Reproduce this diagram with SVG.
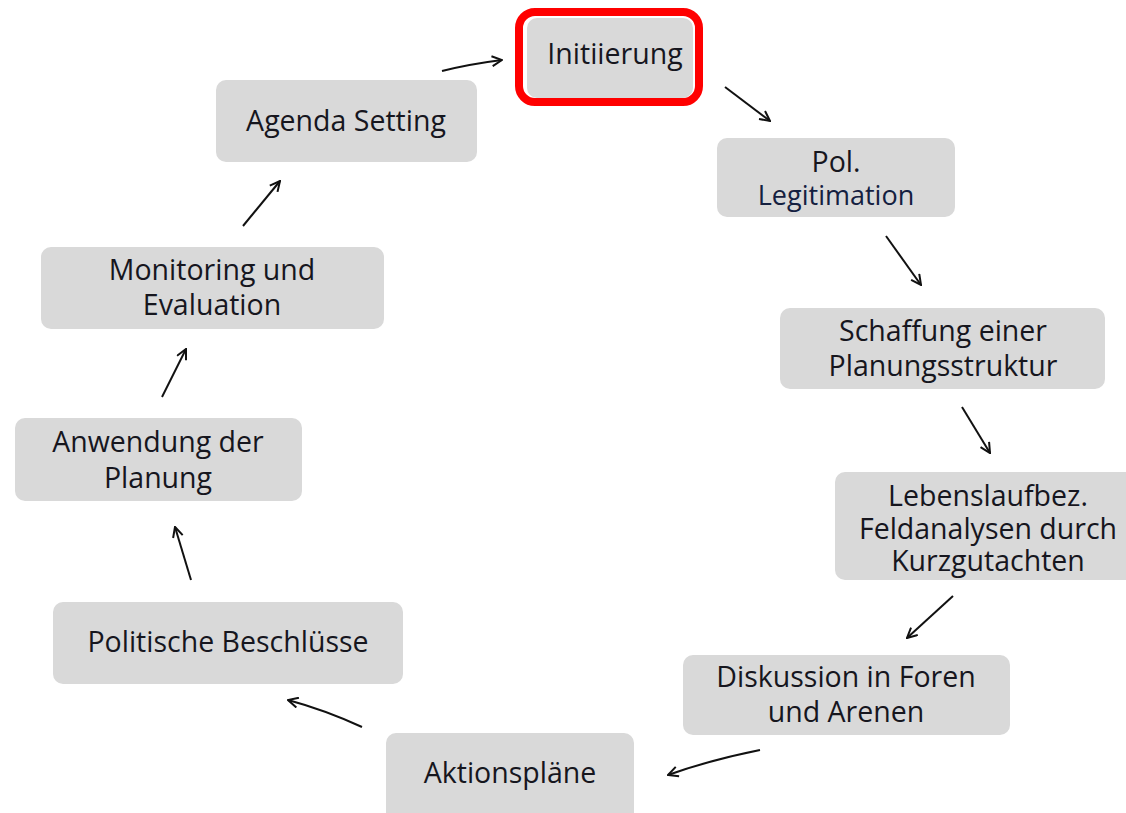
<svg xmlns="http://www.w3.org/2000/svg" width="1126" height="813" viewBox="0 0 1126 813">
<style>
.box{fill:#d9d9d9;}
.t{font-family:"Open Sans","Noto Sans","Liberation Sans",sans-serif;font-size:28.5px;fill:#16161e;text-anchor:middle;}
.c{fill:none;stroke:#111;stroke-width:2;marker-end:url(#ah);}
</style>
<defs>
<marker id="ah" viewBox="0 0 12 12" refX="11" refY="6" markerWidth="12" markerHeight="12" markerUnits="userSpaceOnUse" orient="auto">
<path d="M1,1 L11,6 L1,11" fill="none" stroke="#111" stroke-width="2"/>
</marker>
</defs>
<rect width="1126" height="813" fill="#fff"/>
<g id="n-initiierung">
<rect x="519" y="12" width="180" height="90" rx="16" fill="none" stroke="#f00" stroke-width="8"/>
<rect class="box" x="527" y="18" width="166" height="80" rx="10"/>
<text class="t" x="615" y="64">Initiierung</text>
</g>
<g id="n-pol">
<rect class="box" x="717" y="138" width="238" height="79" rx="10"/>
<text class="t" x="836" y="172">Pol.</text>
<text class="t" x="836" y="205" style="font-size:27px;fill:#142040">Legitimation</text>
</g>
<g id="n-schaffung">
<rect class="box" x="780" y="308" width="325" height="81" rx="10"/>
<text class="t" x="943" y="341">Schaffung einer</text>
<text class="t" x="943" y="376">Planungsstruktur</text>
</g>
<g id="n-lebenslauf">
<rect class="box" x="835" y="472" width="300" height="108" rx="10"/>
<text class="t" x="988" y="506">Lebenslaufbez.</text>
<text class="t" x="988" y="539">Feldanalysen durch</text>
<text class="t" x="988" y="571">Kurzgutachten</text>
</g>
<g id="n-diskussion">
<rect class="box" x="683" y="655" width="327" height="80" rx="10"/>
<text class="t" x="846" y="687">Diskussion in Foren</text>
<text class="t" x="846" y="722">und Arenen</text>
</g>
<g id="n-aktion">
<rect class="box" x="386" y="733" width="248" height="95" rx="10"/>
<text class="t" x="510" y="783">Aktionspläne</text>
</g>
<g id="n-politische">
<rect class="box" x="53" y="602" width="350" height="82" rx="10"/>
<text class="t" x="228" y="652">Politische Beschlüsse</text>
</g>
<g id="n-anwendung">
<rect class="box" x="15" y="418" width="287" height="83" rx="10"/>
<text class="t" x="158" y="452">Anwendung der</text>
<text class="t" x="158" y="488">Planung</text>
</g>
<g id="n-monitoring">
<rect class="box" x="41" y="247" width="343" height="82" rx="10"/>
<text class="t" x="212" y="280">Monitoring und</text>
<text class="t" x="212" y="315">Evaluation</text>
</g>
<g id="n-agenda">
<rect class="box" x="216" y="80" width="261" height="82" rx="10"/>
<text class="t" x="346" y="131">Agenda Setting</text>
</g>
<g id="connectors">
<path class="c" d="M442,71 Q470,64 502,60"/>
<path class="c" d="M725,87 L770,121"/>
<path class="c" d="M886,236 L921,285"/>
<path class="c" d="M962,407 L990,453"/>
<path class="c" d="M953,596 L907,638"/>
<path class="c" d="M760,750 Q710,760 668,775"/>
<path class="c" d="M362,727 Q325,710 288,700"/>
<path class="c" d="M191,580 L175,527"/>
<path class="c" d="M162,397 L186,349"/>
<path class="c" d="M243,226 L280,181"/>
</g>
</svg>
